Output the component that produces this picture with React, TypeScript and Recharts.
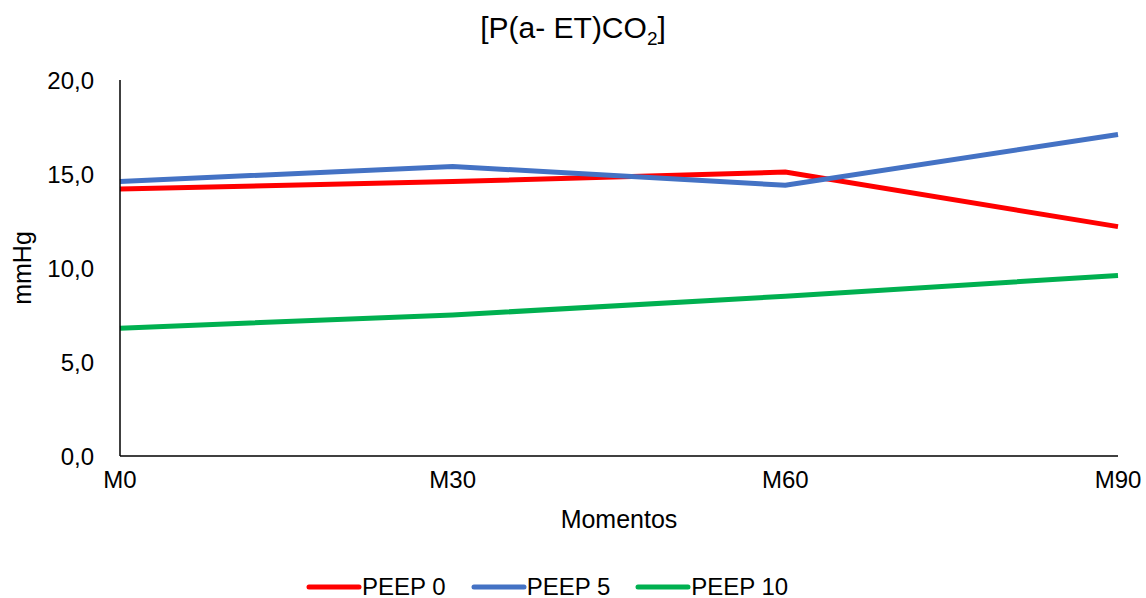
import React from "react";
import { LineChart, Line, XAxis, YAxis, Legend } from "recharts";

// Sampling moments
const moments = ["M0", "M30", "M60", "M90"];

// [P(a-ET)CO2] means in mmHg for each PEEP group
const peep0 = [14.2, 14.6, 15.1, 12.2];
const peep5 = [14.6, 15.4, 14.4, 17.1];
const peep10 = [6.8, 7.5, 8.5, 9.6];

const yTicks = [0, 5, 10, 15, 20];

const series = [
  { key: "peep0", name: "PEEP 0", color: "#FF0000" },
  { key: "peep5", name: "PEEP 5", color: "#4472C4" },
  { key: "peep10", name: "PEEP 10", color: "#00B050" },
];

const data = moments.map((m, i) => ({
  moment: m,
  peep0: peep0[i],
  peep5: peep5[i],
  peep10: peep10[i],
}));

const FONT = "'Liberation Sans', Arial, sans-serif";

const YLabel = (props: any) => {
  const { viewBox } = props;
  const cy = viewBox.y + viewBox.height / 2;
  return (
    <text
      x={22}
      y={cy}
      transform={`rotate(-90, 22, ${cy})`}
      textAnchor="middle"
      dominantBaseline="central"
      fontSize={25}
      fontFamily={FONT}
      fill="#000"
    >
      mmHg
    </text>
  );
};

const XLabel = (props: any) => {
  const { viewBox } = props;
  return (
    <text
      x={viewBox.x + viewBox.width / 2}
      y={viewBox.y + 63}
      textAnchor="middle"
      dominantBaseline="central"
      fontSize={25}
      fontFamily={FONT}
      fill="#000"
    >
      Momentos
    </text>
  );
};

const LegendContent = () => (
  <div
    style={{
      display: "flex",
      justifyContent: "flex-start",
      paddingLeft: 306,
      gap: 25,
      height: 22,
      lineHeight: "22px",
      fontFamily: FONT,
      fontSize: 24,
      color: "#000",
    }}
  >
    {series.map((s) => (
      <div key={s.key} style={{ display: "flex", alignItems: "center" }}>
        <svg width={56} height={8}>
          <line
            x1={3}
            y1={4}
            x2={53}
            y2={4}
            stroke={s.color}
            strokeWidth={5}
            strokeLinecap="round"
          />
        </svg>
        <span>{s.name}</span>
      </div>
    ))}
  </div>
);

export default function App() {
  return (
    <div
      style={{
        position: "absolute",
        left: 0,
        top: 0,
        width: 1146,
        height: 598,
        background: "#fff",
      }}
    >
      <div
        style={{
          position: "absolute",
          top: 11,
          left: 0,
          width: 1146,
          textAlign: "center",
          fontFamily: FONT,
          fontSize: 30,
          lineHeight: "34px",
          color: "#000",
          zIndex: 1,
        }}
      >
        [P(a- ET)CO
        <span style={{ fontSize: 19, position: "relative", top: 7 }}>2</span>]
      </div>
      <LineChart
        width={1146}
        height={598}
        data={data}
        margin={{ top: 80, right: 28, left: 0, bottom: 0 }}
      >
        <XAxis
          dataKey="moment"
          height={120}
          axisLine={{ stroke: "#000", strokeWidth: 1.5 }}
          tickLine={false}
          tickSize={0}
          tickMargin={15}
          tick={{ fontSize: 24, fontFamily: FONT, fill: "#000" }}
          interval={0}
          label={<XLabel />}
        />
        <YAxis
          width={120}
          domain={[0, 20]}
          ticks={yTicks}
          axisLine={{ stroke: "#000", strokeWidth: 1.5 }}
          tickLine={false}
          tickSize={0}
          tickMargin={26}
          tick={{ fontSize: 24, fontFamily: FONT, fill: "#000" }}
          tickFormatter={(v: number) => v.toFixed(1).replace(".", ",")}
          label={<YLabel />}
        />
        <Legend verticalAlign="bottom" content={<LegendContent />} />
        {series.map((s) => (
          <Line
            key={s.key}
            type="linear"
            dataKey={s.key}
            name={s.name}
            stroke={s.color}
            strokeWidth={5}
            dot={false}
            activeDot={false}
            isAnimationActive={false}
          />
        ))}
      </LineChart>
    </div>
  );
}
